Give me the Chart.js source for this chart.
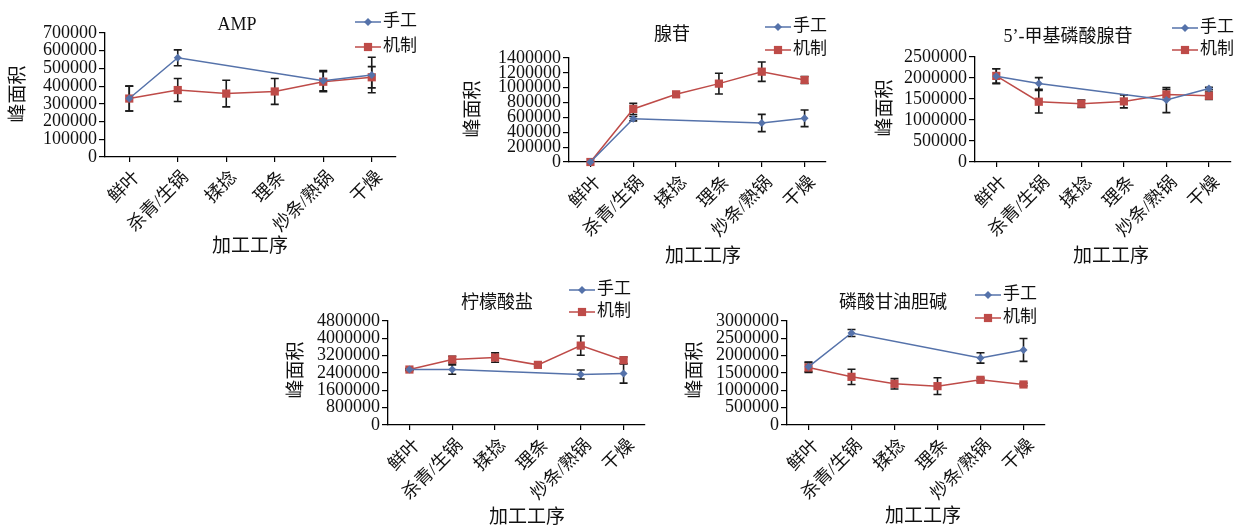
<!DOCTYPE html>
<html>
<head>
<meta charset="utf-8">
<script src="https://cdn.jsdelivr.net/npm/chart.js@4/dist/chart.umd.min.js"></script>
<style>
  html, body { margin: 0; padding: 0; background: #fff; width: 1236px; height: 525px; overflow: hidden; }
  canvas { position: absolute; }
</style>
</head>
<body>
<canvas id="pAmp"></canvas>
<canvas id="pAdo"></canvas>
<canvas id="pMta"></canvas>
<canvas id="pCit"></canvas>
<canvas id="pGpc"></canvas>
<script>
// Processing steps (x categories) and the two processing modes
const steps = ['鲜叶', '杀青/生锅', '揉捻', '理条', '炒条/熟锅', '干燥'];
const modes = ['手工', '机制'];

// AMP
const ampHand    = [330000, 560000, null, null, 431000, 463000];
const ampHandErr = [70000, 45000, null, null, 57000, 100000];
const ampMach    = [330000, 378000, 358000, 370000, 425000, 450000];
const ampMachErr = [70000, 65000, 75000, 73000, 57000, 60000];
const ampAxis    = [0, 700000, 100000];

// 腺苷
const adoHand    = [0, 583000, null, null, 525000, 588000];
const adoHandErr = [0, 30000, null, null, 116000, 112000];
const adoMach    = [0, 714000, 911000, 1055000, 1216000, 1104000];
const adoMachErr = [0, 75000, 31000, 139000, 130000, 47000];
const adoAxis    = [0, 1400000, 200000];

// 5’-甲基磷酸腺苷
const mtaHand    = [2042000, 1869000, null, null, 1475000, 1751000];
const mtaHandErr = [180000, 140000, null, null, 300000, 30000];
const mtaMach    = [2050000, 1435000, 1388000, 1443000, 1609000, 1577000];
const mtaMachErr = [170000, 270000, 87000, 155000, 120000, 90000];
const mtaAxis    = [0, 2500000, 500000];

// 柠檬酸盐
const citHand    = [2560000, 2560000, null, null, 2331000, 2377000];
const citHandErr = [40000, 215000, null, null, 205000, 445000];
const citMach    = [2560000, 3021000, 3113000, 2776000, 3665000, 2990000];
const citMachErr = [40000, 155000, 215000, 60000, 445000, 150000];
const citAxis    = [0, 4800000, 800000];

// 磷酸甘油胆碱
const gpcHand    = [1677000, 2655000, null, null, 1936000, 2166000];
const gpcHandErr = [140000, 100000, null, null, 150000, 330000];
const gpcMach    = [1658000, 1390000, 1188000, 1121000, 1303000, 1169000];
const gpcMachErr = [140000, 220000, 150000, 240000, 50000, 40000];
const gpcAxis    = [0, 3000000, 500000];

const BLUE = '#5572AA';
const RED = '#BE4B48';
const INK = '#111';
const FONT = '"Liberation Serif", "Noto Sans CJK SC", serif';

// Vertical error bars with caps, drawn beneath the lines and markers
const errorBarPlugin = {
  id: 'errorBars',
  beforeDatasetsDraw(chart) {
    const ctx = chart.ctx;
    const ys = chart.scales.y;
    chart.data.datasets.forEach((ds, i) => {
      const meta = chart.getDatasetMeta(i);
      (ds.errorBars || []).forEach((e, j) => {
        const v = ds.data[j];
        if (v == null || !e) return;
        const x = meta.data[j].x;
        const top = ys.getPixelForValue(v + e);
        const bot = ys.getPixelForValue(v - e);
        ctx.save();
        ctx.strokeStyle = '#1a1a1a';
        ctx.lineWidth = 1.6;
        ctx.beginPath();
        ctx.moveTo(x, top); ctx.lineTo(x, bot);
        ctx.moveTo(x - 4, top); ctx.lineTo(x + 4, top);
        ctx.moveTo(x - 4, bot); ctx.lineTo(x + 4, bot);
        ctx.stroke();
        ctx.restore();
      });
    });
  }
};

// Panel title, legend and axis titles placed at fixed spots of each panel
function panelText(cfg) {
  const [cx, cy] = cfg.canvas;
  return {
    id: 'panelText',
    afterDraw(chart) {
      const ctx = chart.ctx;
      ctx.save();
      ctx.fillStyle = INK;
      ctx.textBaseline = 'middle';

      ctx.font = '18px ' + FONT;
      ctx.textAlign = 'center';
      ctx.fillText(cfg.title[0], cfg.title[1] - cx, cfg.title[2] - cy);

      const [lx, r1, r2] = cfg.legend;
      [r1, r2].forEach((ry, k) => {
        const ds = chart.data.datasets[k];
        const x0 = lx - cx, y0 = ry - cy;
        ctx.strokeStyle = ds.borderColor;
        ctx.lineWidth = 1.5;
        ctx.beginPath(); ctx.moveTo(x0, y0); ctx.lineTo(x0 + 26, y0); ctx.stroke();
        ctx.fillStyle = ds.backgroundColor;
        Chart.helpers.drawPoint(ctx, { pointStyle: ds.pointStyle, radius: ds.pointRadius, rotation: 0, borderWidth: 0 }, x0 + 13, y0);
        ctx.fillStyle = INK;
        ctx.textAlign = 'left';
        ctx.font = '17px ' + FONT;
        ctx.fillText(ds.label, x0 + 28, y0);
      });

      ctx.font = '19px ' + FONT;
      ctx.textAlign = 'center';
      ctx.fillText('加工工序', cfg.xTitle[0] - cx, cfg.xTitle[1] - cy);

      ctx.translate(cfg.yTitle[0] - cx, cfg.yTitle[1] - cy);
      ctx.rotate(-Math.PI / 2);
      ctx.fillText('峰面积', 0, 0);
      ctx.restore();
    }
  };
}

function makePanel(cfg) {
  const cv = document.getElementById(cfg.id);
  const [cx, cy, cw, ch] = cfg.canvas;
  const [pl, pt, pr, pb] = cfg.plot;
  cv.width = cw; cv.height = ch;
  cv.style.left = cx + 'px'; cv.style.top = cy + 'px';
  cv.style.width = cw + 'px'; cv.style.height = ch + 'px';

  new Chart(cv, {
    type: 'line',
    data: {
      labels: steps,
      datasets: [
        { label: modes[0], data: cfg.hand, errorBars: cfg.handErr, borderColor: BLUE, backgroundColor: BLUE,
          pointStyle: 'rectRot', pointRadius: 4, pointBorderWidth: 0, borderWidth: 1.5, spanGaps: true, clip: false },
        { label: modes[1], data: cfg.mach, errorBars: cfg.machErr, borderColor: RED, backgroundColor: RED,
          pointStyle: 'rect', pointRadius: 5.8, pointBorderWidth: 0, borderWidth: 1.5, clip: false }
      ]
    },
    options: {
      responsive: false,
      animation: false,
      devicePixelRatio: 1,
      layout: { padding: { left: 0, top: pt - cy, right: cx + cw - pr, bottom: 0 } },
      plugins: { legend: { display: false }, title: { display: false }, tooltip: { enabled: false } },
      scales: {
        x: {
          type: 'category',
          offset: true,
          grid: { offset: false, drawOnChartArea: false, tickLength: 5, color: '#000', lineWidth: 1.2 },
          border: { color: '#000', width: 1.3 },
          ticks: { minRotation: 45, maxRotation: 45, autoSkip: false, padding: 5, labelOffset: 8, color: INK,
                   font: { family: FONT, size: 18 } },
          afterFit: s => { s.height = cy + ch - pb; }
        },
        y: {
          min: cfg.axis[0], max: cfg.axis[1],
          grid: { drawOnChartArea: false, tickLength: 6, color: '#000', lineWidth: 1.2 },
          border: { color: '#000', width: 1.3 },
          ticks: { stepSize: cfg.axis[2], autoSkip: false, padding: 2, color: INK, font: { family: FONT, size: 18 },
                   callback: v => String(v) },
          afterFit: s => { s.width = pl - cx; }
        }
      }
    },
    plugins: [errorBarPlugin, panelText(cfg)]
  });
}

makePanel({ id: 'pAmp', canvas: [0, 0, 430, 265], plot: [105, 33, 396, 157],
  title: ['AMP', 237, 25], legend: [355, 22, 47], yTitle: [19, 94], xTitle: [250, 247],
  hand: ampHand, handErr: ampHandErr, mach: ampMach, machErr: ampMachErr, axis: ampAxis });

makePanel({ id: 'pAdo', canvas: [420, 0, 420, 270], plot: [569, 58, 826, 162],
  title: ['腺苷', 672, 35], legend: [765, 27, 50], yTitle: [474, 109], xTitle: [703, 257],
  hand: adoHand, handErr: adoHandErr, mach: adoMach, machErr: adoMachErr, axis: adoAxis });

makePanel({ id: 'pMta', canvas: [840, 0, 396, 270], plot: [975, 57, 1232, 162],
  title: ['5’-甲基磷酸腺苷', 1068, 37], legend: [1172, 28, 50], yTitle: [886, 108], xTitle: [1111, 257],
  hand: mtaHand, handErr: mtaHandErr, mach: mtaMach, machErr: mtaMachErr, axis: mtaAxis });

makePanel({ id: 'pCit', canvas: [280, 270, 390, 255], plot: [388, 321, 645, 425],
  title: ['柠檬酸盐', 497, 303], legend: [569, 290, 312], yTitle: [297, 370], xTitle: [527, 518],
  hand: citHand, handErr: citHandErr, mach: citMach, machErr: citMachErr, axis: citAxis });

makePanel({ id: 'pGpc', canvas: [680, 270, 400, 255], plot: [787, 321, 1045, 425],
  title: ['磷酸甘油胆碱', 893, 303], legend: [975, 295, 318], yTitle: [696, 370], xTitle: [923, 517],
  hand: gpcHand, handErr: gpcHandErr, mach: gpcMach, machErr: gpcMachErr, axis: gpcAxis });
</script>
</body>
</html>
